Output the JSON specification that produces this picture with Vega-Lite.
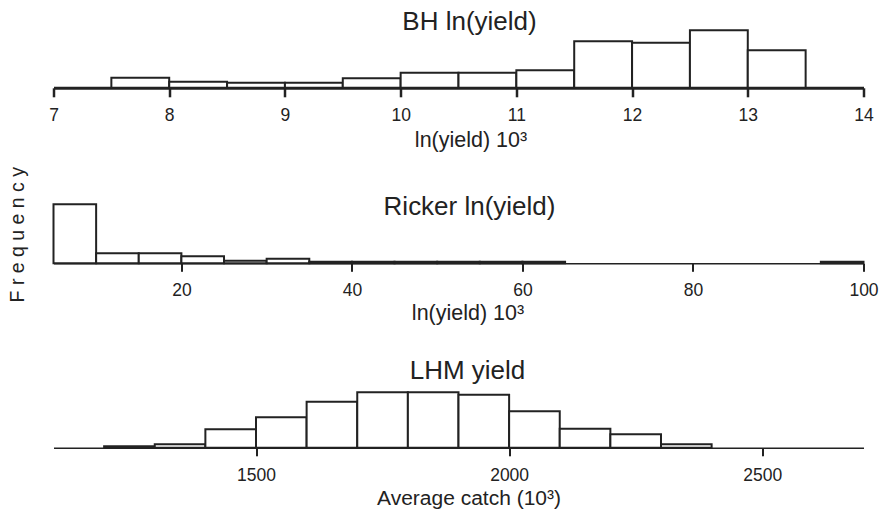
{
  "$schema": "https://vega.github.io/schema/vega-lite/v6.json",
  "background": "white",
  "padding": {"left": 7.5, "top": 8.8, "right": 0, "bottom": 0},
  "bounds": "flush",
  "spacing": 111.5,
  "title": {
    "text": "F r e q u e n c y",
    "orient": "left",
    "anchor": "middle",
    "frame": "bounds",
    "offset": 19.7,
    "dx": 24,
    "font": "Liberation Sans",
    "fontSize": 19.5,
    "fontWeight": "normal",
    "color": "#222222"
  },
  "datasets": {
    "bh": [
      {"bin_start": 7.5, "bin_end": 8, "count": 10},
      {"bin_start": 8, "bin_end": 8.5, "count": 6},
      {"bin_start": 8.5, "bin_end": 9, "count": 5},
      {"bin_start": 9, "bin_end": 9.5, "count": 5},
      {"bin_start": 9.5, "bin_end": 10, "count": 9.5},
      {"bin_start": 10, "bin_end": 10.5, "count": 15},
      {"bin_start": 10.5, "bin_end": 11, "count": 15},
      {"bin_start": 11, "bin_end": 11.5, "count": 17.5},
      {"bin_start": 11.5, "bin_end": 12, "count": 46.5},
      {"bin_start": 12, "bin_end": 12.5, "count": 45},
      {"bin_start": 12.5, "bin_end": 13, "count": 57.5},
      {"bin_start": 13, "bin_end": 13.5, "count": 37.5}
    ],
    "ricker": [
      {"bin_start": 5, "bin_end": 10, "count": 59},
      {"bin_start": 10, "bin_end": 15, "count": 10},
      {"bin_start": 15, "bin_end": 20, "count": 10},
      {"bin_start": 20, "bin_end": 25, "count": 7},
      {"bin_start": 25, "bin_end": 30, "count": 2.5},
      {"bin_start": 30, "bin_end": 35, "count": 4.5},
      {"bin_start": 35, "bin_end": 40, "count": 1.5},
      {"bin_start": 40, "bin_end": 45, "count": 1.5},
      {"bin_start": 45, "bin_end": 50, "count": 1.5},
      {"bin_start": 50, "bin_end": 55, "count": 1.5},
      {"bin_start": 55, "bin_end": 60, "count": 1.5},
      {"bin_start": 60, "bin_end": 65, "count": 1.5},
      {"bin_start": 95, "bin_end": 100, "count": 1.5}
    ],
    "lhm": [
      {"bin_start": 1200, "bin_end": 1300, "count": 1.5},
      {"bin_start": 1300, "bin_end": 1400, "count": 3.5},
      {"bin_start": 1400, "bin_end": 1500, "count": 18.5},
      {"bin_start": 1500, "bin_end": 1600, "count": 30.5},
      {"bin_start": 1600, "bin_end": 1700, "count": 46},
      {"bin_start": 1700, "bin_end": 1800, "count": 55.5},
      {"bin_start": 1800, "bin_end": 1900, "count": 55.5},
      {"bin_start": 1900, "bin_end": 2000, "count": 53},
      {"bin_start": 2000, "bin_end": 2100, "count": 36.5},
      {"bin_start": 2100, "bin_end": 2200, "count": 19},
      {"bin_start": 2200, "bin_end": 2300, "count": 13.5},
      {"bin_start": 2300, "bin_end": 2400, "count": 3.5}
    ]
  },
  "vconcat": [
    {
      "width": 810,
      "height": 60,
      "data": {"name": "bh"},
      "title": {"text": "BH ln(yield)", "offset": -7.3, "dx": 11, "frame": "group"},
      "mark": {"type": "bar", "orient": "vertical", "fill": "white", "stroke": "#222222", "strokeWidth": 2},
      "encoding": {
        "x": {
          "field": "bin_start", "type": "quantitative",
          "scale": {"domain": [7, 14], "nice": false, "zero": false, "padding": 0},
          "axis": {
            "title": "ln(yield) 10³",
            "values": [7, 8, 9, 10, 11, 12, 13, 14],
            "format": "d",
            "titleX": 417, "titleY": 59,
            "domainWidth": 3, "tickWidth": 2.5, "tickSize": 9, "labelPadding": 24
          }
        },
        "x2": {"field": "bin_end"},
        "y": {
          "field": "count", "type": "quantitative",
          "scale": {"domain": [0, 60], "nice": false},
          "axis": null
        },
        "y2": {"datum": 0}
      }
    },
    {
      "width": 810,
      "height": 64,
      "data": {"name": "ricker"},
      "title": {"text": "Ricker ln(yield)", "offset": -21, "dx": 11, "frame": "group"},
      "mark": {"type": "bar", "orient": "vertical", "fill": "white", "stroke": "#222222", "strokeWidth": 2},
      "encoding": {
        "x": {
          "field": "bin_start", "type": "quantitative",
          "scale": {"domain": [5, 100], "nice": false, "zero": false, "padding": 0},
          "axis": {
            "title": "ln(yield) 10³",
            "values": [20, 40, 60, 80, 100],
            "format": "d",
            "titleX": 414, "titleY": 56.5
          }
        },
        "x2": {"field": "bin_end"},
        "y": {
          "field": "count", "type": "quantitative",
          "scale": {"domain": [0, 64], "nice": false},
          "axis": null
        },
        "y2": {"datum": 0}
      }
    },
    {
      "width": 810,
      "height": 73,
      "data": {"name": "lhm"},
      "title": {"text": "LHM yield", "offset": -9.6, "dx": 9, "frame": "group"},
      "mark": {"type": "bar", "orient": "vertical", "fill": "white", "stroke": "#222222", "strokeWidth": 2},
      "encoding": {
        "x": {
          "field": "bin_start", "type": "quantitative",
          "scale": {"domain": [1100, 2700], "nice": false, "zero": false, "padding": 0},
          "axis": {
            "title": "Average catch (10³)",
            "values": [1500, 2000, 2500],
            "format": "d",
            "titleX": 415, "titleY": 56.5, "titleFontSize": 21
          }
        },
        "x2": {"field": "bin_end"},
        "y": {
          "field": "count", "type": "quantitative",
          "scale": {"domain": [0, 73], "nice": false},
          "axis": null
        },
        "y2": {"datum": 0}
      }
    }
  ],
  "config": {
    "view": {"stroke": null},
    "title": {
      "font": "Liberation Sans",
      "fontSize": 26,
      "fontWeight": "normal",
      "color": "#222222",
      "baseline": "alphabetic",
      "anchor": "middle"
    },
    "axis": {
      "grid": false,
      "domainColor": "#222222",
      "domainWidth": 1.5,
      "tickColor": "#222222",
      "tickWidth": 2,
      "tickSize": 8,
      "labelFont": "Liberation Sans",
      "labelFontSize": 17.5,
      "labelColor": "#222222",
      "labelBaseline": "alphabetic",
      "labelPadding": 24.5,
      "labelFlush": false,
      "labelOverlap": false,
      "titleFont": "Liberation Sans",
      "titleFontSize": 21.5,
      "titleFontWeight": "normal",
      "titleColor": "#222222",
      "titleBaseline": "alphabetic"
    }
  }
}
